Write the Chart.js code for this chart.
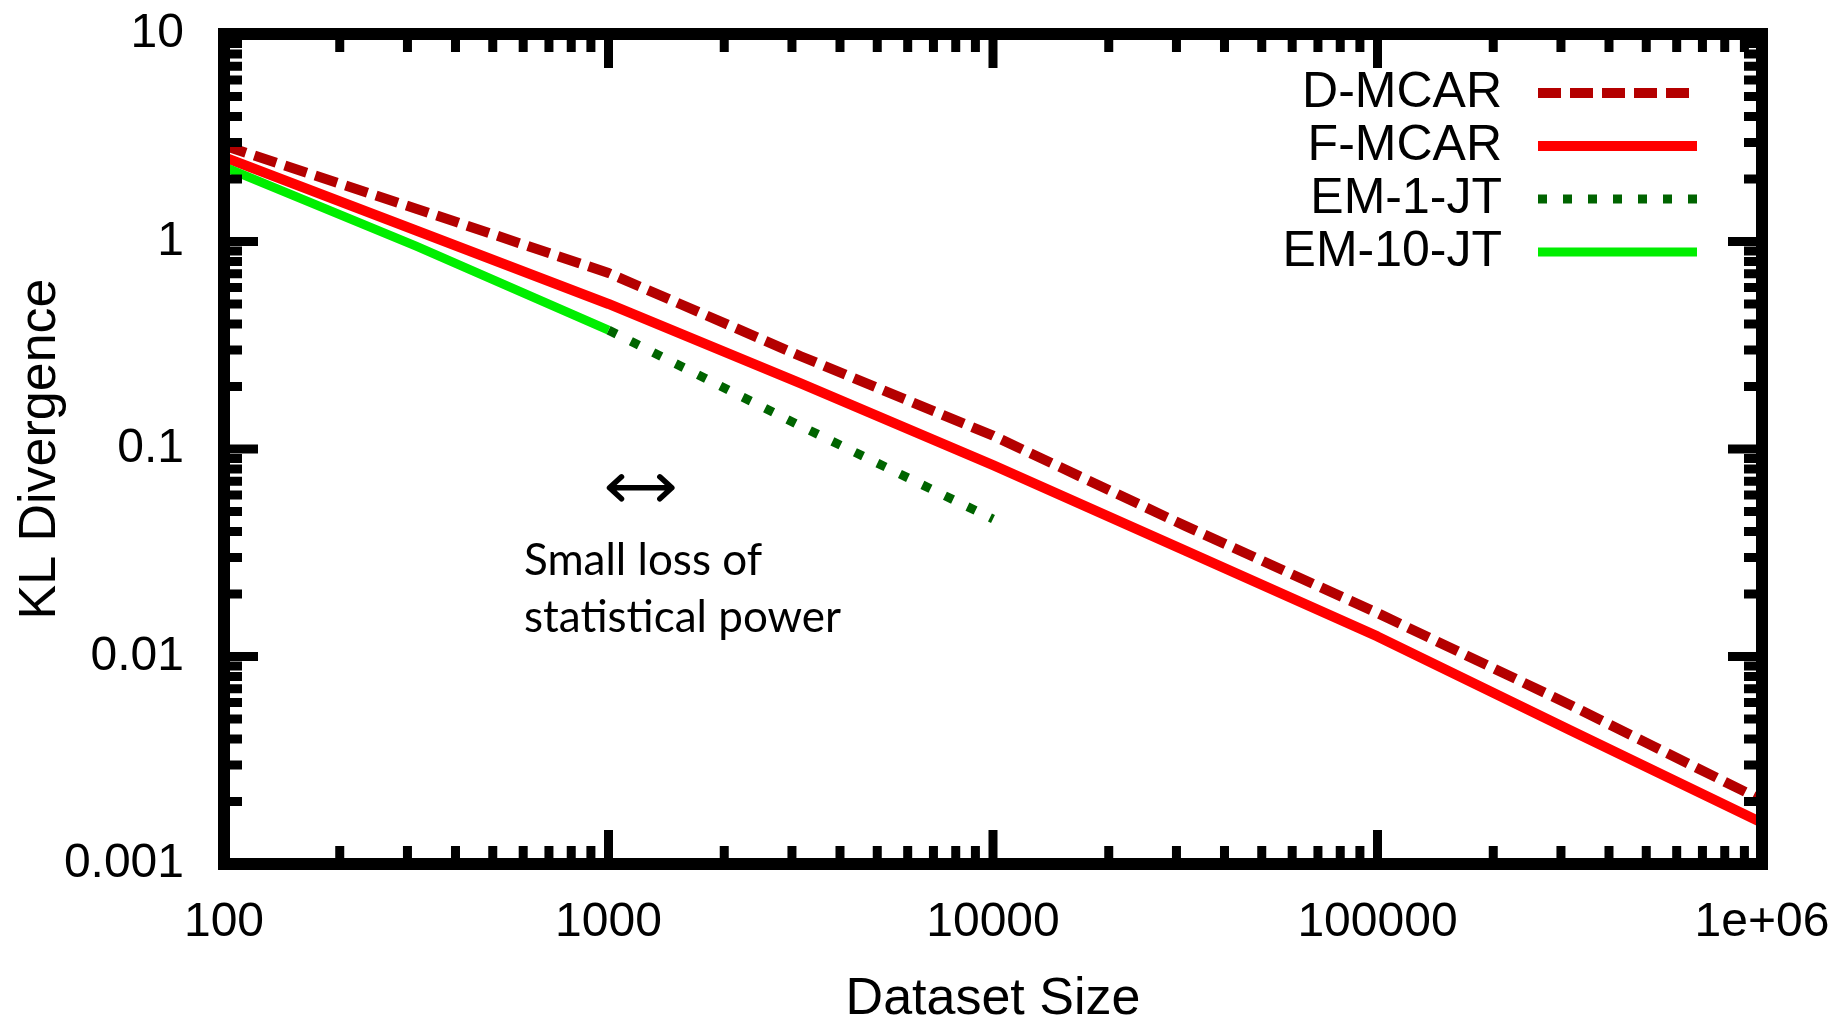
<!DOCTYPE html>
<html>
<head>
<meta charset="utf-8">
<script src="https://cdn.jsdelivr.net/npm/chart.js@4"></script>
<style>
  html, body { margin: 0; padding: 0; background: #fff; }
  canvas { display: block; }
</style>
</head>
<body>
<canvas id="klChart" width="1848" height="1021"></canvas>
<script>
// dataset sizes the curves were read at
const sizes = [100, 316, 1000, 3162, 10000, 31623, 100000, 316228, 1000000];
const dMcar = [2.9, 1.44, 0.705, 0.28, 0.116, 0.0426, 0.0162, 0.00586, 0.00203];
const fMcar = [2.55, 1.13, 0.50, 0.207, 0.0837, 0.0324, 0.0125, 0.00442, 0.00158];
// the EM curves only cover part of the range
const em10Sizes = [100, 316, 1000];
const em10 = [2.29, 0.95, 0.374];
const em1Sizes = [1000, 3162, 10000];
const em1 = [0.374, 0.129, 0.046];

const xDecades = [100, 1000, 10000, 100000, 1000000];
const xTickLabels = ['100', '1000', '10000', '100000', '1e+06'];
const yDecades = [0.001, 0.01, 0.1, 1, 10];
const yTickLabels = ['0.001', '0.01', '0.1', '1', '10'];
const minorSteps = [2, 3, 4, 5, 6, 7, 8, 9];

const FONT = '"Liberation Sans", Arial, sans-serif';

function points(xs, ys) {
  return xs.map((x, i) => ({ x: x, y: ys[i] }));
}

// major ticks at each decade, minor ticks 2..9 in between
function logTicks(decades) {
  const out = [];
  decades.forEach((d, i) => {
    out.push({ value: d, major: true });
    if (i < decades.length - 1) {
      minorSteps.forEach(m => out.push({ value: d * m, major: false }));
    }
  });
  return out;
}

// gnuplot style frame with inward ticks on all four sides
const framePlugin = {
  id: 'gnuplotFrame',
  afterDatasetsDraw(chart) {
    const { ctx, chartArea: a, scales } = chart;
    ctx.save();
    ctx.strokeStyle = '#000';
    ctx.lineCap = 'butt';
    ctx.setLineDash([]);
    ctx.lineWidth = 9;
    scales.x.ticks.forEach(t => {
      const px = scales.x.getPixelForValue(t.value);
      const len = t.major ? 34 : 18;
      ctx.beginPath();
      ctx.moveTo(px, a.bottom); ctx.lineTo(px, a.bottom - len);
      ctx.moveTo(px, a.top); ctx.lineTo(px, a.top + len);
      ctx.stroke();
    });
    scales.y.ticks.forEach(t => {
      const py = scales.y.getPixelForValue(t.value);
      const len = t.major ? 34 : 18;
      ctx.beginPath();
      ctx.moveTo(a.left, py); ctx.lineTo(a.left + len, py);
      ctx.moveTo(a.right, py); ctx.lineTo(a.right - len, py);
      ctx.stroke();
    });
    ctx.lineWidth = 12;
    ctx.strokeRect(a.left, a.top, a.right - a.left, a.bottom - a.top);
    ctx.restore();
  }
};

// key inside the plot, text right aligned, sample to its right
const keyPlugin = {
  id: 'insideKey',
  afterDraw(chart) {
    const { ctx, chartArea: a } = chart;
    const textRight = a.right - 260;
    const lineStart = a.right - 224;
    const lineEnd = a.right - 65;
    let y = a.top + 59;
    ctx.save();
    chart.data.datasets.forEach(ds => {
      ctx.fillStyle = '#000';
      ctx.font = '50px ' + FONT;
      ctx.textAlign = 'right';
      ctx.textBaseline = 'middle';
      ctx.fillText(ds.label, textRight, y);
      ctx.strokeStyle = ds.borderColor;
      ctx.lineWidth = ds.borderWidth;
      ctx.lineCap = 'butt';
      ctx.setLineDash(ds.borderDash || []);
      ctx.beginPath();
      ctx.moveTo(lineStart, y);
      ctx.lineTo(lineEnd, y);
      ctx.stroke();
      y += 53;
    });
    ctx.restore();
  }
};

// the "small loss of statistical power" note and its double arrow
const note = { lines: ['Small loss of', 'statistical power'], x: 603, y: 0.0288, lineStep: 57,
               arrowFrom: 1000, arrowTo: 1470, arrowY: 0.065 };
const notePlugin = {
  id: 'note',
  afterDraw(chart) {
    const { ctx, scales } = chart;
    const x0 = scales.x.getPixelForValue(note.arrowFrom);
    const x1 = scales.x.getPixelForValue(note.arrowTo);
    const ya = scales.y.getPixelForValue(note.arrowY);
    ctx.save();
    ctx.strokeStyle = '#000';
    ctx.lineWidth = 5.5;
    ctx.lineCap = 'round';
    ctx.lineJoin = 'round';
    ctx.beginPath();
    ctx.moveTo(x0 + 2, ya); ctx.lineTo(x1 - 2, ya);
    ctx.moveTo(x0 + 13, ya - 11); ctx.lineTo(x0 + 1, ya); ctx.lineTo(x0 + 13, ya + 11);
    ctx.moveTo(x1 - 13, ya - 11); ctx.lineTo(x1 - 1, ya); ctx.lineTo(x1 - 13, ya + 11);
    ctx.stroke();
    ctx.fillStyle = '#000';
    ctx.font = '44px Lato, "Open Sans", sans-serif';
    ctx.textAlign = 'left';
    ctx.textBaseline = 'middle';
    const tx = scales.x.getPixelForValue(note.x);
    const ty = scales.y.getPixelForValue(note.y);
    note.lines.forEach((t, i) => ctx.fillText(t, tx, ty + i * note.lineStep));
    ctx.restore();
  }
};

const config = {
  type: 'line',
  data: {
    datasets: [
      { label: 'D-MCAR', data: points(sizes, dMcar), borderColor: '#b40000', borderWidth: 10,
        borderDash: [23, 9], order: 4 },
      { label: 'F-MCAR', data: points(sizes, fMcar), borderColor: '#ff0000', borderWidth: 10, order: 3 },
      { label: 'EM-1-JT', data: points(em1Sizes, em1), borderColor: '#006400', borderWidth: 9,
        borderDash: [9, 16], order: 2 },
      { label: 'EM-10-JT', data: points(em10Sizes, em10), borderColor: '#00ee00', borderWidth: 9, order: 1 }
    ]
  },
  options: {
    responsive: false,
    animation: false,
    devicePixelRatio: 1,
    layout: { padding: { top: 34, right: 86, left: 0, bottom: 0 } },
    elements: {
      point: { radius: 0, hoverRadius: 0 },
      line: { borderCapStyle: 'butt', borderJoinStyle: 'round', tension: 0 }
    },
    plugins: { legend: { display: false }, tooltip: { enabled: false } },
    scales: {
      x: {
        type: 'logarithmic', min: 100, max: 1000000,
        afterBuildTicks: s => { s.ticks = logTicks(xDecades); },
        afterFit: s => { s.height = 157; s.paddingLeft = 0; s.paddingRight = 0; },
        grid: { display: false }, border: { display: false },
        ticks: {
          autoSkip: false, maxRotation: 0, minRotation: 0, padding: 22, color: '#000',
          font: { family: FONT, size: 48 },
          callback: v => { const i = xDecades.indexOf(v); return i >= 0 ? xTickLabels[i] : ''; }
        },
        title: { display: true, text: 'Dataset Size', color: '#000',
                 font: { family: FONT, size: 52, lineHeight: 1 }, padding: { top: 0, bottom: -5 } }
      },
      y: {
        type: 'logarithmic', min: 0.001, max: 10,
        afterBuildTicks: s => { s.ticks = logTicks(yDecades); },
        afterFit: s => { s.width = 224; s.paddingTop = 0; s.paddingBottom = 0; },
        grid: { display: false }, border: { display: false },
        ticks: {
          autoSkip: false, padding: 32, color: '#000',
          font: { family: FONT, size: 48 },
          callback: v => { const i = yDecades.indexOf(v); return i >= 0 ? yTickLabels[i] : ''; }
        },
        title: { display: true, text: 'KL Divergence', color: '#000',
                 font: { family: FONT, size: 52, lineHeight: 1 }, padding: { top: 15, bottom: 0 } }
      }
    }
  },
  plugins: [framePlugin, keyPlugin, notePlugin]
};

const klChart = new Chart(document.getElementById('klChart'), config);
</script>
</body>
</html>
